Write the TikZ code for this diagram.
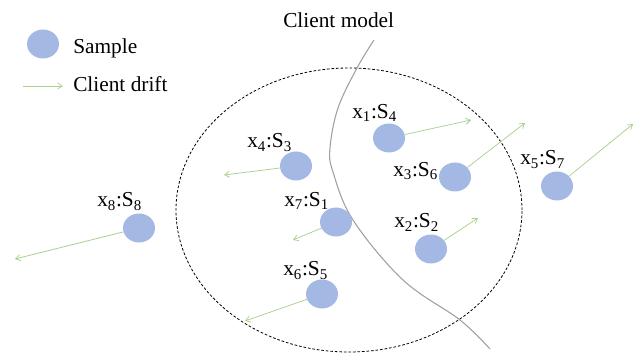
\documentclass[tikz,border=0pt]{standalone}
\usepackage{fontspec}
\setmainfont{Liberation Serif}
\usetikzlibrary{arrows.meta,shapes.geometric}
\definecolor{smpfill}{RGB}{164,184,228}
\definecolor{drift}{RGB}{169,209,142}
\definecolor{modelgray}{RGB}{160,160,160}
\begin{document}
\begin{tikzpicture}[x=0.75pt,y=-0.75pt,
  sample/.style={ellipse,fill=smpfill,minimum width=24pt,minimum height=21.75pt,inner sep=0pt},
  driftarrow/.style={draw=drift,line width=0.55pt,-{Straight Barb[length=3.5pt,width=4.5pt]}},
  lbl/.style={anchor=base west,inner sep=0pt,font=\fontsize{16}{18}\selectfont},
  legendtxt/.style={anchor=base west,inner sep=0pt,font=\fontsize{16}{18}\selectfont}]
\useasboundingbox[fill=white] (0,0) rectangle (640,353);
% dashed client region
\node[draw,ellipse,dash pattern=on 2pt off 1.4pt,line width=0.6pt,minimum width=259.5pt,minimum height=213pt,inner sep=0pt] (region) at (349,210) {};
% client model curve
\draw[modelgray,line width=0.8pt] plot[smooth,tension=0.6] coordinates {(374,40) (357,68) (338,108) (330,148) (333,172) (353,220) (403,280) (460,320) (490,349)};
\node[anchor=base west,inner sep=0pt,font=\fontsize{16}{18}\selectfont] (cm) at (283,28) {Client model};
% legend
\node[sample] (leg) at (43,44) {};
\node[legendtxt] (legS) at (73,54) {Sample};
\coordinate (la) at (23,86);
\coordinate (lb) at (63,86);
\draw[driftarrow] (la) -- (lb);
\node[legendtxt] (legD) at (73,92) {Client drift};
% samples
\node[sample] (s1) at (389,138) {};
\node[sample] (s3) at (455,177) {};
\node[sample] (s5) at (557,186) {};
\node[sample] (s4) at (296,166) {};
\node[sample] (s8) at (139,228) {};
\node[sample] (s7) at (336,222) {};
\node[sample] (s6) at (322,294) {};
\node[sample] (s2) at (431,249) {};
% labels
\node[lbl] (l1) at (352,118) {x\textsubscript{1}:S\textsubscript{4}};
\node[lbl] (l3) at (393,176) {x\textsubscript{3}:S\textsubscript{6}};
\node[lbl] (l5) at (520,165) {x\textsubscript{5}:S\textsubscript{7}};
\node[lbl] (l4) at (247,148) {x\textsubscript{4}:S\textsubscript{3}};
\node[lbl] (l8) at (97,207) {x\textsubscript{8}:S\textsubscript{8}};
\node[lbl] (l7) at (284,206) {x\textsubscript{7}:S\textsubscript{1}};
\node[lbl] (l6) at (283,276) {x\textsubscript{6}:S\textsubscript{5}};
\node[lbl] (l2) at (394,228) {x\textsubscript{2}:S\textsubscript{2}};
% drift end points
\coordinate (e1) at (471,120);
\coordinate (e3) at (525,123);
\coordinate (e5) at (633,124);
\coordinate (e4) at (224,175);
\coordinate (e8) at (15,259);
\coordinate (e7) at (293,240);
\coordinate (e6) at (245,321);
\coordinate (e2) at (478,218);
\foreach \i in {1,3,5,4,8,7,6,2}{\draw[driftarrow] (s\i) -- (e\i);}
\end{tikzpicture}
\end{document}
